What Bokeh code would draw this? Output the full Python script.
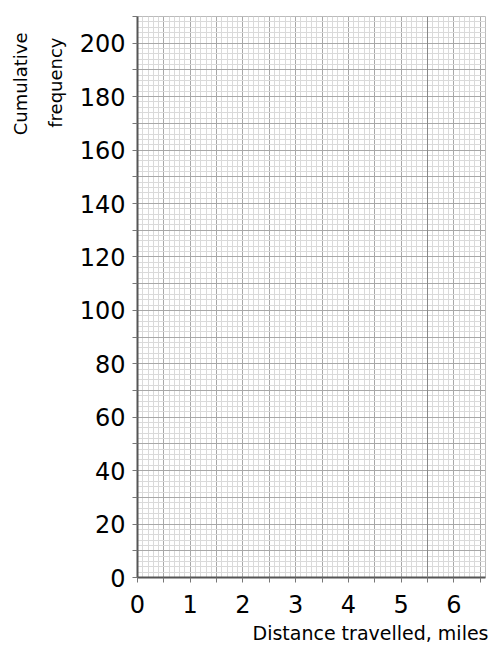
from bokeh.plotting import figure
from bokeh.models import FixedTicker, Title, Span
from bokeh.embed import file_html
from bokeh.resources import INLINE

# axis extents and tick values
x_max = 6.6
y_max = 210
x_major_ticks = [round(0.5 * i, 1) for i in range(0, 14)]          # 0 .. 6.5
x_minor_ticks = [round(0.1 * i, 1) for i in range(0, 67)]          # 0 .. 6.6
y_major_ticks = list(range(0, 211, 10))
y_minor_ticks = list(range(0, 211, 2))
x_tick_labels = {t: (str(int(t)) if float(t).is_integer() else "") for t in x_major_ticks}
y_tick_labels = {t: (str(t) if t % 20 == 0 else "") for t in y_major_ticks}
emphasis_lines = [5.5]

x_title = "Distance travelled, miles"
y_title_lines = ["Cumulative", "frequency"]

FONT = "DejaVu Sans"

p = figure(width=490, height=648, x_range=(0, x_max), y_range=(0, y_max),
           output_backend="svg", toolbar_location=None,
           min_border_left=137, min_border_right=5, min_border_top=16, min_border_bottom=70)
p.outline_line_color = "#bbbbbb"
p.outline_line_width = 1
p.background_fill_color = "white"
p.border_fill_color = "white"

# grids
p.xgrid.ticker = FixedTicker(ticks=x_major_ticks, minor_ticks=x_minor_ticks)
p.ygrid.ticker = FixedTicker(ticks=y_major_ticks, minor_ticks=y_minor_ticks)
for g in (p.xgrid, p.ygrid):
    g.grid_line_color = "#a8a8a8"
    g.grid_line_width = 1
    g.minor_grid_line_color = "#dadada"
    g.minor_grid_line_width = 1
    g.level = "underlay"

for xe in emphasis_lines:
    p.add_layout(Span(location=xe, dimension="height", line_color="#888888", line_width=1))

# axes
p.xaxis.ticker = FixedTicker(ticks=x_major_ticks)
p.yaxis.ticker = FixedTicker(ticks=y_major_ticks)
p.xaxis.major_label_overrides = x_tick_labels
p.yaxis.major_label_overrides = y_tick_labels
for ax in (p.xaxis, p.yaxis):
    ax.axis_line_color = "#555555"
    ax.axis_line_width = 2
    ax.major_tick_line_color = "#777777"
    ax.major_tick_out = 5
    ax.major_tick_in = 0
    ax.minor_tick_line_color = None
    ax.major_label_text_font = FONT
    ax.major_label_text_font_size = "24px"
    ax.major_label_text_color = "black"
p.xaxis.major_label_standoff = 12
p.yaxis.major_label_standoff = 7

# axis titles
p.add_layout(Title(text=x_title, align="right", offset=-3, text_font=FONT, text_font_size="19px",
                   text_font_style="normal", text_color="black", standoff=9), "below")
p.add_layout(Title(text=y_title_lines[1], align="right", offset=21, text_font=FONT,
                   text_font_size="18px", text_font_style="normal", text_color="black",
                   standoff=22), "left")
p.add_layout(Title(text=y_title_lines[0], align="right", offset=16, text_font=FONT,
                   text_font_size="18px", text_font_style="normal", text_color="black",
                   standoff=2), "left")

open("out.html", "w").write(file_html(p, INLINE))
